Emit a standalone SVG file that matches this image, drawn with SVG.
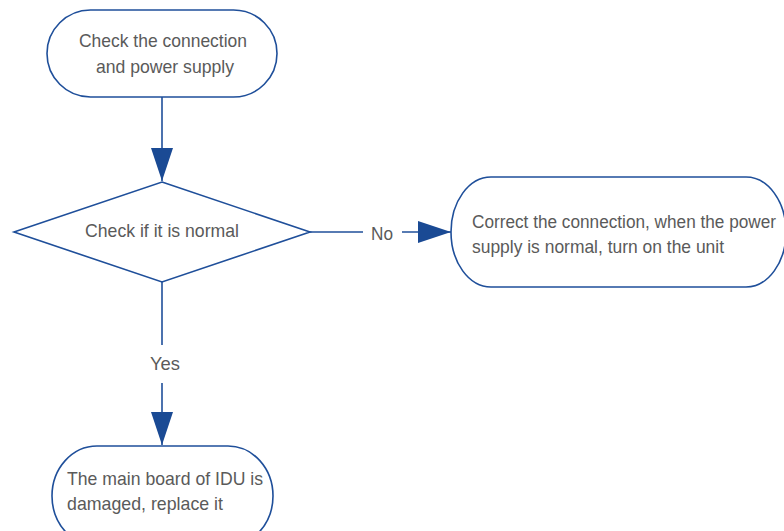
<svg xmlns="http://www.w3.org/2000/svg" width="784" height="531" viewBox="0 0 784 531">
<style>
.shape{fill:#fff;stroke:#1f4f9a;stroke-width:1.6}
.line{fill:none;stroke:#1f4f9a;stroke-width:1.6}
.t{font-family:"Liberation Sans",Arial,sans-serif;font-size:19px;fill:#5a5a5a}
.s{font-size:17.5px}
</style>
<defs>
<marker id="arr" markerUnits="userSpaceOnUse" markerWidth="34" markerHeight="22" refX="33" refY="11" orient="auto" viewBox="0 0 34 22">
<path d="M0,0 L33,11 L0,22 Z" fill="#1a4a94"/>
</marker>
</defs>
<rect width="784" height="531" fill="#fff"/>
<g id="connectors">
<line class="line" x1="162" y1="97" x2="162" y2="181" marker-end="url(#arr)"/>
<line class="line" x1="310" y1="232" x2="363" y2="232"/>
<line class="line" x1="402" y1="232" x2="451" y2="232" marker-end="url(#arr)"/>
<text class="t" x="371" y="240" textLength="22" lengthAdjust="spacingAndGlyphs">No</text>
<line class="line" x1="162" y1="282" x2="162" y2="345"/>
<line class="line" x1="162" y1="383" x2="162" y2="445" marker-end="url(#arr)"/>
<text class="t" x="150" y="370" textLength="30" lengthAdjust="spacingAndGlyphs">Yes</text>
</g>
<g id="start">
<rect class="shape" x="47" y="10" width="230" height="87" rx="43.5" ry="43.5"/>
<text class="t" x="79" y="47" textLength="168" lengthAdjust="spacingAndGlyphs">Check the connection</text>
<text class="t" x="96" y="73" textLength="138" lengthAdjust="spacingAndGlyphs">and power supply</text>
</g>
<g id="decision">
<polygon class="shape" points="162,182 310,232 162,282 14,232"/>
<text class="t" x="85" y="237" textLength="154" lengthAdjust="spacingAndGlyphs">Check if it is normal</text>
</g>
<g id="correct">
<rect class="shape" x="451" y="177" width="335" height="110" rx="40" ry="55"/>
<text class="t s" x="472" y="228" textLength="304" lengthAdjust="spacingAndGlyphs">Correct the connection, when the power</text>
<text class="t" x="472" y="253" textLength="252" lengthAdjust="spacingAndGlyphs">supply is normal, turn on the unit</text>
</g>
<g id="replace">
<rect class="shape" x="52" y="446" width="221" height="100" rx="45" ry="50"/>
<text class="t" x="67" y="485" textLength="196" lengthAdjust="spacingAndGlyphs">The main board of IDU is</text>
<text class="t" x="67" y="510" textLength="156" lengthAdjust="spacingAndGlyphs">damaged, replace it</text>
</g>
</svg>
